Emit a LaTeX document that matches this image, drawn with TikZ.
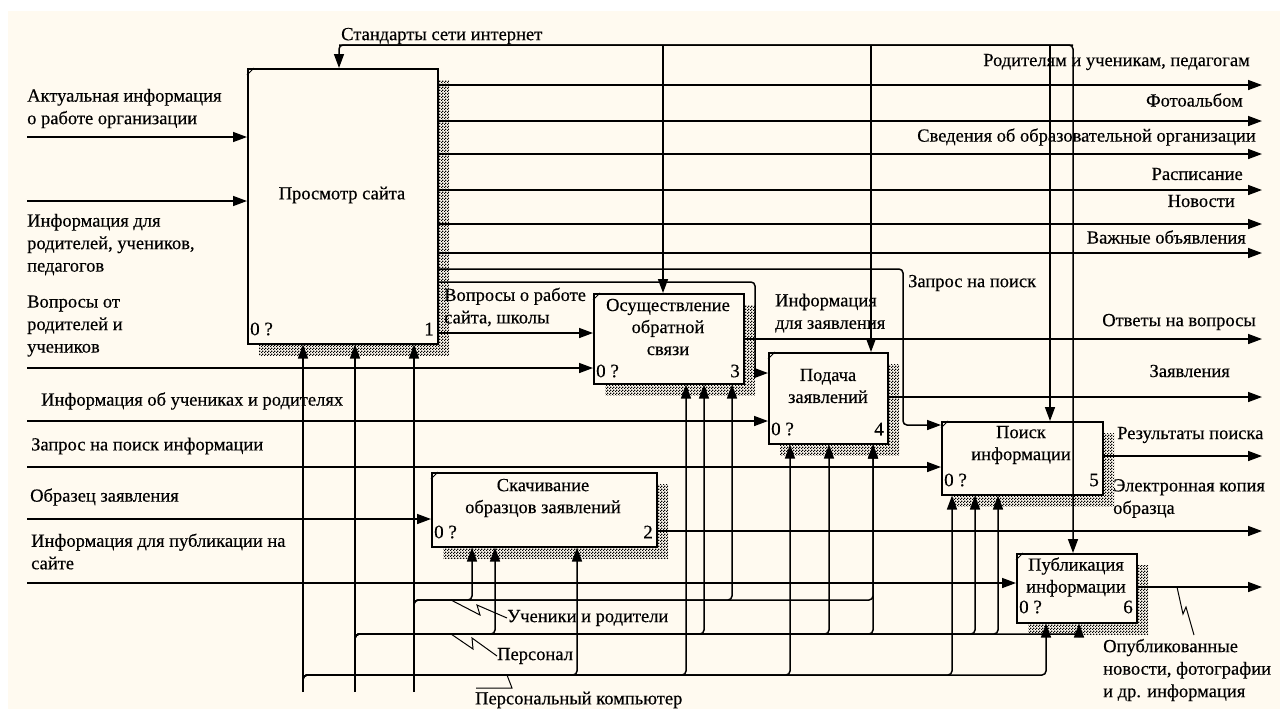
\documentclass[tikz,border=0pt]{standalone}
\usepackage{fontspec}
\setmainfont{Liberation Serif}[FakeBold=0.4]
\usetikzlibrary{arrows.meta,patterns}
\definecolor{bg}{RGB}{255,250,240}
\pgfdeclarepatternformonly{checker}{\pgfpointorigin}{\pgfpoint{3pt}{3pt}}{\pgfpoint{3pt}{3pt}}{%
  \pgfpathrectangle{\pgfpointorigin}{\pgfpoint{1.5pt}{1.5pt}}%
  \pgfpathrectangle{\pgfpoint{1.5pt}{1.5pt}}{\pgfpoint{1.5pt}{1.5pt}}%
  \pgfusepath{fill}}
\begin{document}
\begin{tikzpicture}[x=1pt,y=-1pt,
  line/.style={line width=1.5pt,line cap=butt},
  arr/.style={line,-{Triangle[length=14pt,width=10pt]}},
  rc/.style={rounded corners=4pt},
  box/.style={draw,line width=1.5pt,fill=bg,anchor=north west,inner sep=0pt},
  shade/.style={pattern=checker,pattern color=black},
  lbl/.style={inner sep=0pt,font=\fontsize{18.5}{22.5}\selectfont,align=left,anchor=west},
  lblr/.style={lbl,align=right,anchor=east},
  btxt/.style={inner sep=0pt,font=\fontsize{18.5}{22}\selectfont,align=center},
  num/.style={inner sep=0pt,font=\fontsize{19}{22}\selectfont},
  leader/.style={line width=1pt}
]
\useasboundingbox (0,0) rectangle (1280,710);
\fill[white] (0,0) rectangle (1280,710);
\fill[bg] (8,11) rectangle (1280,709);

% shadows
\fill[shade] (259,80) rectangle (449,355);
\fill[shade] (443,484) rectangle (668,558);
\fill[shade] (605,305) rectangle (755,395);
\fill[shade] (780,364) rectangle (899,455);
\fill[shade] (953,433) rectangle (1114,506);
\fill[shade] (1028,565) rectangle (1148,634);

% boxes
\node[box,minimum width=190pt,minimum height=275pt] (b1) at (247,68) {};
\node[box,minimum width=225pt,minimum height=74pt] (b2) at (431,472) {};
\node[box,minimum width=150pt,minimum height=90pt] (b3) at (593,293) {};
\node[box,minimum width=119pt,minimum height=91pt] (b4) at (768,352) {};
\node[box,minimum width=161pt,minimum height=73pt] (b5) at (941,421) {};
\node[box,minimum width=120pt,minimum height=69pt] (b6) at (1016,553) {};

% corner marks
\foreach \b in {b1,b2,b3,b4,b5,b6}{
  \draw[line width=0.9pt] ([yshift=-7pt]\b.north west) -- ([xshift=7pt]\b.north west);
}

% box texts
\node[btxt] (b1t) at (342,195) {Просмотр сайта};
\node[btxt] (b2t) at (543,498) {Скачивание\\образцов заявлений};
\node[btxt] (b3t) at (668,327) {Осуществление\\обратной\\связи};
\node[btxt] (b4t) at (828,386) {Подача\\заявлений};
\node[btxt] (b5t) at (1021,445) {Поиск\\информации};
\node[btxt] (b6t) at (1076,577) {Публикация\\информации};

% numbers
\node[num,anchor=west] (b1z) at (250,329) {0 ?};
\node[num,anchor=east] (b1n) at (434,329) {1};
\node[num,anchor=west] (b2z) at (434,532) {0 ?};
\node[num,anchor=east] (b2n) at (653,532) {2};
\node[num,anchor=west] (b3z) at (596,371) {0 ?};
\node[num,anchor=east] (b3n) at (740,371) {3};
\node[num,anchor=west] (b4z) at (771,429) {0 ?};
\node[num,anchor=east] (b4n) at (884,429) {4};
\node[num,anchor=west] (b5z) at (944,480) {0 ?};
\node[num,anchor=east] (b5n) at (1099,480) {5};
\node[num,anchor=west] (b6z) at (1019,607) {0 ?};
\node[num,anchor=east] (b6n) at (1133,607) {6};

% ---------- coordinates ----------
\coordinate (i1) at (27,137);
\coordinate (i2) at (27,201);
\coordinate (i3) at (27,368);
\coordinate (i4) at (27,421);
\coordinate (i5) at (27,467);
\coordinate (i6) at (27,519);
\coordinate (i7) at (27,583);
\coordinate (o1) at (1262,85);
\coordinate (o2) at (1262,121);
\coordinate (o3) at (1262,154);
\coordinate (o4) at (1262,190);
\coordinate (o5) at (1262,224);
\coordinate (o6) at (1262,253);
\coordinate (o7) at (1262,339);
\coordinate (o8) at (1262,397);
\coordinate (o9) at (1262,456);
\coordinate (o10) at (1262,531);
\coordinate (o11) at (1262,587);
\coordinate (k333) at (0,333);
\coordinate (k282) at (0,282);
\coordinate (k269) at (0,269);
\coordinate (j4a) at (755,282);
\coordinate (j4b) at (755,373);
\coordinate (j5a) at (903,269);
\coordinate (j5b) at (903,425);
\coordinate (tL) at (339,45);
\coordinate (tR) at (1073,45);
\coordinate (t3) at (663,45);
\coordinate (t4) at (871,45);
\coordinate (t5) at (1050,45);
\coordinate (mA) at (303,692);
\coordinate (mB) at (355,692);
\coordinate (mC) at (414,692);
\coordinate (h1) at (414,612);
\coordinate (h2) at (355,646);
\coordinate (h3) at (303,687);
\coordinate (r1a) at (472,600);
\coordinate (r1b) at (732,600);
\coordinate (r1c) at (873,600);
\coordinate (r2a) at (495,634);
\coordinate (r2b) at (704,634);
\coordinate (r2c) at (829,634);
\coordinate (r2d) at (873,634);
\coordinate (r2e) at (975,634);
\coordinate (r2f) at (998,634);
\coordinate (r2g) at (1079,634);
\coordinate (r3a) at (577,675);
\coordinate (r3b) at (686,675);
\coordinate (r3c) at (790,675);
\coordinate (r3d) at (952,675);
\coordinate (r3e) at (1046,675);

% ---------- inputs ----------
\draw[arr] (i1) -- (b1.west |- i1);
\draw[arr] (i2) -- (b1.west |- i2);
\draw[arr] (i3) -- (b3.west |- i3);
\draw[arr] (i4) -- (b4.west |- i4);
\draw[arr] (i5) -- (b5.west |- i5);
\draw[arr] (i6) -- (b2.west |- i6);
\draw[arr] (i7) -- (b6.west |- i7);

% ---------- outputs ----------
\foreach \o in {o1,o2,o3,o4,o5,o6}{\draw[arr] (b1.east |- \o) -- (\o);}
\draw[arr] (b3.east |- o7) -- (o7);
\draw[arr] (b4.east |- o8) -- (o8);
\draw[arr] (b5.east |- o9) -- (o9);
\draw[arr] (b2.east |- o10) -- (o10);
\draw[arr] (b6.east |- o11) -- (o11);

% ---------- internal ----------
\draw[arr] (b1.east |- k333) -- (b3.west |- k333);
\draw[arr,rc] (b1.east |- k282) -- (j4a) -- (j4b) -- (b4.west |- j4b);
\draw[arr,rc] (b1.east |- k269) -- (j5a) -- (j5b) -- (b5.west |- j5b);

% ---------- controls ----------
\draw[arr,rc] (tR) -- (tL) -- (b1.north -| tL);
\draw[arr,rc] (tL) -- (tR) -- (b6.north -| tR);
\draw[arr] (t3) -- (b3.north -| t3);
\draw[arr] (t4) -- (b4.north -| t4);
\draw[arr] (t5) -- (b5.north -| t5);

% ---------- mechanisms ----------
\draw[arr] (mA) -- (b1.south -| mA);
\draw[arr] (mB) -- (b1.south -| mB);
\draw[arr] (mC) -- (b1.south -| mC);
\foreach \r/\b in {r1a/b2,r1b/b3,r1c/b4}{\draw[arr,rc] (h1) |- (\r) -- (\b.south -| \r);}
\foreach \r/\b in {r2a/b2,r2b/b3,r2c/b4,r2d/b4,r2e/b5,r2f/b5,r2g/b6}{\draw[arr,rc] (h2) |- (\r) -- (\b.south -| \r);}
\foreach \r/\b in {r3a/b2,r3b/b3,r3c/b4,r3d/b5,r3e/b6}{\draw[arr,rc] (h3) |- (\r) -- (\b.south -| \r);}

% ---------- labels ----------
\node[lbl] (lStd) at (341,36) {Стандарты сети интернет};
\node[lbl] (lI1) at (27,108.5) {Актуальная информация\\о работе организации};
\node[lbl] (lI2) at (27,244.5) {Информация для\\родителей, учеников,\\педагогов};
\node[lbl] (lI3) at (27,326) {Вопросы от\\родителей и\\учеников};
\node[lbl] (lI4) at (41,401) {Информация об учениках и родителях};
\node[lbl] (lI5) at (31,446) {Запрос на поиск информации};
\node[lbl] (lI6) at (30,497) {Образец заявления};
\node[lbl] (lI7) at (31,551.5) {Информация для публикации на\\сайте};

\node[lblr] (lO1) at (1250,62) {Родителям и ученикам, педагогам};
\node[lblr] (lO2) at (1243,100) {Фотоальбом};
\node[lblr] (lO3) at (1256,137) {Сведения об образовательной организации};
\node[lblr] (lO4) at (1243,174) {Расписание};
\node[lblr] (lO5) at (1235,201) {Новости};
\node[lblr] (lO6) at (1246,237) {Важные объявления};
\node[lblr] (lO7) at (1256,322) {Ответы на вопросы};
\node[lblr] (lO8) at (1230,371) {Заявления};
\node[lbl] (lO9) at (1117,435) {Результаты поиска};
\node[lbl] (lO10) at (1113,498.5) {Электронная копия\\образца};
\node[lbl] (lO11) at (1103,670) {Опубликованные\\новости, фотографии\\и др. информация};

\node[lbl] (lQ) at (908,283) {Запрос на поиск};
\node[lbl] (lV) at (444,307) {Вопросы о работе\\сайта, школы};
\node[lbl] (lZ) at (775,313) {Информация\\для заявления};

\node[lbl] (lM1) at (507,618) {Ученики и родители};
\node[lbl] (lM2) at (497,656) {Персонал};
\node[lbl] (lM3) at (475,700) {Персональный компьютер};

% leaders (squiggles)
\coordinate (s1) at (451,600);
\coordinate (s2) at (451,634);
\coordinate (s3) at (507,675);
\coordinate (s4) at (1177,587);
\draw[leader] (s1) -- (480,615) -- (477,605) -- (lM1.west);
\draw[leader] (s2) -- (473,649) -- (472,638) -- (lM2.west);
\draw[leader] (s3) -- (512,688) -- (476,688);
\draw[leader] (s4) -- (1183,614) -- (1186,607) -- (1194,635);
\end{tikzpicture}
\end{document}
